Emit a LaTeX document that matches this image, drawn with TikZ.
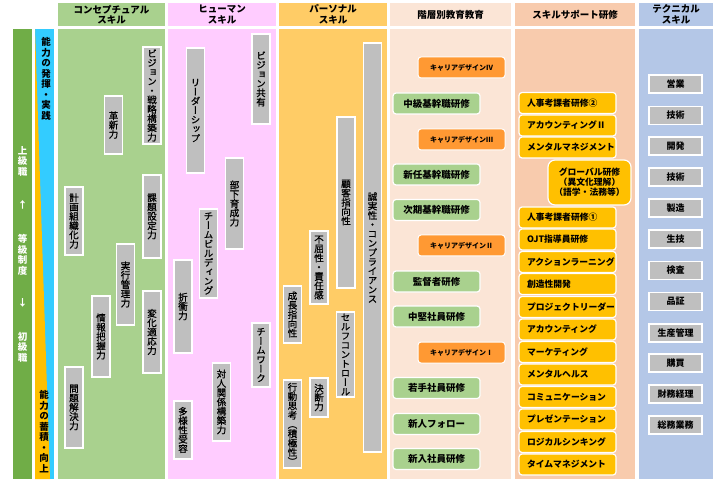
\documentclass[tikz,border=0pt]{standalone}
\usepackage{fontspec}
\setmainfont{Noto Sans CJK JP}
\newfontfamily\tatefont{Noto Sans CJK JP}[RawFeature=+vert]
\newfontfamily\tatefontm{Noto Sans CJK JP}[RawFeature=+vert,FakeBold=0.9]

\definecolor{gradeGreen}{HTML}{70AD47}
\definecolor{useBlue}{HTML}{33CCFF}
\definecolor{storeOrange}{HTML}{FFC000}
\definecolor{conceptBg}{HTML}{A9D18E}
\definecolor{humanBg}{HTML}{FFCCFF}
\definecolor{personalBg}{HTML}{FFCC66}
\definecolor{levelBg}{HTML}{FBE5D6}
\definecolor{supportBg}{HTML}{F8CBAD}
\definecolor{techBg}{HTML}{B4C7E7}
\definecolor{boxGray}{HTML}{BFBFBF}
\definecolor{careerOrange}{HTML}{FF9933}
\definecolor{trainYellow}{HTML}{FFC000}

% stack the characters of #1 one under the other
\makeatletter
\newcommand\tate[1]{\vbox{\lineskiplimit=-\maxdimen\@tfor\tatechar:=#1\do{\hbox to 1em{\hss\tatechar\hss}}}}
\makeatother

\tikzset{
  head/.style={align=center,font=\bfseries\fontsize{9.5}{10.5}\selectfont},
  grayv/.style={draw=white,line width=1.2pt,fill=boxGray,inner sep=0pt,
    minimum width=18pt,font=\tatefontm\fontsize{9.5}{9.3}\selectfont},
  greenr/.style={draw=white,line width=1.2pt,fill=conceptBg,rounded corners=3pt,
    minimum width=87pt,minimum height=21pt,inner sep=0pt,
    font=\bfseries\fontsize{9.5}{10}\selectfont},
  oranger/.style={draw=white,line width=1pt,fill=careerOrange,rounded corners=3pt,
    minimum width=87pt,minimum height=21pt,inner sep=0pt,
    font=\bfseries\fontsize{7}{8}\selectfont},
  yellowr/.style={draw=white,line width=1.2pt,fill=trainYellow,rounded corners=3pt,
    text width=81pt,align=left,inner xsep=8pt,inner ysep=0pt,minimum height=21pt,
    font=\bfseries\fontsize{8.8}{10}\selectfont},
  globalr/.style={draw=white,line width=1.2pt,fill=trainYellow,rounded corners=7pt,
    align=center,inner sep=0pt,minimum width=83pt,minimum height=45pt,
    font=\bfseries\fontsize{8.8}{10}\selectfont},
  techr/.style={draw=white,line width=1.2pt,fill=boxGray,inner sep=0pt,
    minimum width=53pt,minimum height=18pt,font=\bfseries\fontsize{9}{10}\selectfont},
  sidetext/.style={inner sep=0pt,font=\tatefont\bfseries\fontsize{9.5}{10.5}\selectfont}
}

\begin{document}
\begin{tikzpicture}[x=1pt,y=-1pt]
  \useasboundingbox (0,0) rectangle (725,486);
  % grade bar and the two strips
  \fill[gradeGreen] (13,29) rectangle (32,479);
  \fill[useBlue] (35,29) rectangle (54,479);
  \fill[storeOrange] (35,29) -- (50,479) -- (35,479) -- cycle;
  \node[sidetext,white] (upper) at (22.5,161) {\tate{上級職}};
  \node[sidetext,white] (uparrow) at (22.5,205) {\tate{↑}};
  \node[sidetext,white] (grade) at (22.5,255) {\tate{等級制度}};
  \node[sidetext,white] (downarrow) at (22.5,303) {\tate{↓}};
  \node[sidetext,white] (lower) at (22.5,347) {\tate{初級職}};
  \node[sidetext] (use) at (46,79) {\tate{能力の発揮・実践}};
  \node[sidetext] (store) at (44,431.5) {\tate{能力の蓄積・向上}};
  % column headers and bodies
  \fill[conceptBg] (58,3) rectangle (165,26);
  \fill[conceptBg] (58,29) rectangle (165,479);
  \fill[humanBg] (168,3) rectangle (276,26);
  \fill[humanBg] (168,29) rectangle (276,479);
  \fill[personalBg] (279,3) rectangle (387,26);
  \fill[personalBg] (279,29) rectangle (387,479);
  \fill[levelBg] (390,3) rectangle (511,26);
  \fill[levelBg] (390,29) rectangle (511,479);
  \fill[supportBg] (515,3) rectangle (635,26);
  \fill[supportBg] (515,29) rectangle (635,479);
  \fill[techBg] (639,3) rectangle (713,26);
  \fill[techBg] (639,29) rectangle (713,479);
  \node[head] (hconcept) at (111.5,14.5) {コンセプチュアル\\スキル};
  \node[head] (hhuman) at (222,14.5) {ヒューマン\\スキル};
  \node[head] (hpersonal) at (333,14.5) {パーソナル\\スキル};
  \node[head] (hlevel) at (450.5,14.5) {階層別教育教育};
  \node[head] (hsupport) at (575,14.5) {スキルサポート研修};
  \node[head] (htech) at (676,14.5) {テクニカル\\スキル};
  % conceptual skills
  \node[grayv,minimum height=97pt] (vision) at (152,95.5) {\tate{ビジョン・戦略構築力}};
  \node[grayv,minimum height=58pt] (innov) at (113.5,125) {\tate{革新力}};
  \node[grayv,minimum height=68pt] (plan) at (74,221) {\tate{計画組織化力}};
  \node[grayv,minimum height=83pt] (issue) at (152,216.5) {\tate{課題設定力}};
  \node[grayv,minimum height=81pt] (exec) at (125.5,284.5) {\tate{実行管理力}};
  \node[grayv,minimum height=81pt] (info) at (101,336.5) {\tate{情報把握力}};
  \node[grayv,minimum height=82pt] (adapt) at (152,332) {\tate{変化適応力}};
  \node[grayv,minimum height=81pt] (solve) at (74,407.5) {\tate{問題解決力}};
  % human skills
  \node[grayv,minimum height=125pt] (leader) at (195.5,110.5) {\tate{リーダーシップ}};
  \node[grayv,minimum height=90pt] (vshare) at (261,79) {\tate{ビジョン共有}};
  \node[grayv,minimum height=91pt] (develop) at (234.5,203.5) {\tate{部下育成力}};
  \node[grayv,minimum height=89pt] (tbuild) at (208.5,253.5) {\tate{チームビルディング}};
  \node[grayv,minimum height=93pt] (negot) at (183,306.5) {\tate{折衝力}};
  \node[grayv,minimum height=64pt] (twork) at (261,355) {\tate{チームワーク}};
  \node[grayv,minimum height=78pt] (relation) at (221.5,402) {\tate{対人関係構築力}};
  \node[grayv,minimum height=58pt] (divers) at (183,430) {\tate{多様性受容}};
  % personal skills
  \node[grayv,minimum height=409pt] (integ) at (372.5,247.5) {\tate{誠実性・コンプライアンス}};
  \node[grayv,minimum height=171pt] (custom) at (346,202.5) {\tate{顧客指向性}};
  \node[grayv,minimum height=73pt] (tough) at (319,267.5) {\tate{不屈性・責任感}};
  \node[grayv,minimum height=57pt] (growth) at (292.5,314.5) {\tate{成長指向性}};
  \node[grayv,minimum height=85pt] (selfc) at (345.5,354.5) {\tate{セルフコントロール}};
  \node[grayv,minimum height=39pt] (decide) at (319,397.5) {\tate{決断力}};
  \node[grayv,minimum height=88pt] (action) at (292.5,424) {\tate{行動思考（積極性）}};
  % level training
  \node[oranger] (career4) at (461.5,67.5) {キャリアデザインⅣ};
  \node[greenr] (mid) at (436.5,103.5) {中級基幹職研修};
  \node[oranger] (career3) at (461.5,139.5) {キャリアデザインⅢ};
  \node[greenr] (newmgr) at (436.5,174.5) {新任基幹職研修};
  \node[greenr] (nextmgr) at (436.5,210) {次期基幹職研修};
  \node[oranger] (career2) at (461.5,245.5) {キャリアデザインⅡ};
  \node[greenr] (super) at (436.5,281.5) {監督者研修};
  \node[greenr] (core) at (436.5,316.5) {中堅社員研修};
  \node[oranger] (career1) at (461.5,352.5) {キャリアデザインⅠ};
  \node[greenr] (young) at (436.5,388) {若手社員研修};
  \node[greenr] (follow) at (436.5,424) {新人フォロー};
  \node[greenr] (entry) at (436.5,459) {新入社員研修};
  % skill support training
  \node[yellowr] (eval2) at (567.5,103) {人事考課者研修②};
  \node[yellowr] (acc2) at (567.5,125.5) {アカウンティングⅡ};
  \node[yellowr] (mmgmt) at (567.5,147.5) {メンタルマネジメント};
  \node[globalr] (global) at (589.5,182.5) {グローバル研修\\（異文化理解）\\（語学・法務等）};
  \node[yellowr] (eval1) at (567.5,217.5) {人事考課者研修①};
  \node[yellowr] (ojt) at (567.5,239.5) {OJT指導員研修};
  \node[yellowr] (alearn) at (567.5,262) {アクションラーニング};
  \node[yellowr] (create) at (567.5,284) {創造性開発};
  \node[yellowr] (pleader) at (567.5,307) {プロジェクトリーダー};
  \node[yellowr] (acc1) at (567.5,329.5) {アカウンティング};
  \node[yellowr] (market) at (567.5,352) {マーケティング};
  \node[yellowr] (mhealth) at (567.5,374.5) {メンタルヘルス};
  \node[yellowr] (comm) at (567.5,397) {コミュニケーション};
  \node[yellowr] (present) at (567.5,419.5) {プレゼンテーション};
  \node[yellowr] (logic) at (567.5,442) {ロジカルシンキング};
  \node[yellowr] (tmgmt) at (567.5,464.5) {タイムマネジメント};
  % technical skills
  \node[techr] (sales) at (675.5,84) {営業};
  \node[techr] (tech1) at (675.5,115.5) {技術};
  \node[techr] (rnd) at (675.5,146) {開発};
  \node[techr] (tech2) at (675.5,177) {技術};
  \node[techr] (manuf) at (675.5,208) {製造};
  \node[techr] (prodeng) at (675.5,239) {生技};
  \node[techr] (inspect) at (675.5,270.5) {検査};
  \node[techr] (qa) at (675.5,301.5) {品証};
  \node[techr] (prodmgmt) at (675.5,333) {生産管理};
  \node[techr] (purch) at (675.5,363) {購買};
  \node[techr] (finance) at (675.5,394) {財務経理};
  \node[techr] (general) at (675.5,425) {総務業務};
\end{tikzpicture}
\end{document}
